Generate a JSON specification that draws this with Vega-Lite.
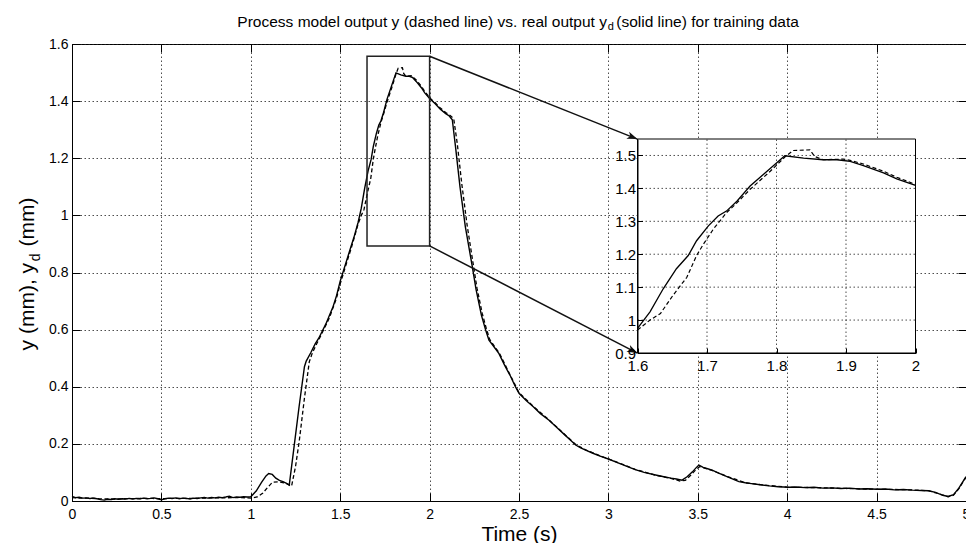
{
  "$schema": "https://vega.github.io/schema/vega-lite/v6.json",
  "width": 894,
  "height": 457,
  "autosize": {"type": "none"},
  "padding": {"left": 72, "top": 44, "right": 0, "bottom": 42},
  "background": "white",
  "config": {
    "view": {"stroke": "black", "strokeWidth": 1},
    "font": "Liberation Sans",
    "axis": {"labelFont": "Liberation Sans", "titleFont": "Liberation Sans", "labelColor": "black", "titleColor": "black", "titleFontWeight": "normal", "domainColor": "black", "tickColor": "black"}
  },
  "datasets": {
    "series": [
      {"t":0.000,"v":0.016,"s":"yd"},{"t":0.020,"v":0.012,"s":"yd"},{"t":0.040,"v":0.013,"s":"yd"},{"t":0.060,"v":0.010,"s":"yd"},{"t":0.080,"v":0.011,"s":"yd"},{"t":0.100,"v":0.009,"s":"yd"},{"t":0.120,"v":0.010,"s":"yd"},{"t":0.140,"v":0.008,"s":"yd"},{"t":0.160,"v":0.005,"s":"yd"},{"t":0.180,"v":0.003,"s":"yd"},{"t":0.200,"v":0.006,"s":"yd"},{"t":0.220,"v":0.005,"s":"yd"},{"t":0.240,"v":0.008,"s":"yd"},{"t":0.260,"v":0.006,"s":"yd"},{"t":0.280,"v":0.008,"s":"yd"},{"t":0.300,"v":0.007,"s":"yd"},{"t":0.320,"v":0.009,"s":"yd"},{"t":0.340,"v":0.007,"s":"yd"},{"t":0.360,"v":0.009,"s":"yd"},{"t":0.380,"v":0.008,"s":"yd"},{"t":0.400,"v":0.010,"s":"yd"},{"t":0.420,"v":0.008,"s":"yd"},{"t":0.440,"v":0.009,"s":"yd"},{"t":0.460,"v":0.011,"s":"yd"},{"t":0.480,"v":0.008,"s":"yd"},{"t":0.500,"v":0.004,"s":"yd"},{"t":0.520,"v":0.008,"s":"yd"},{"t":0.540,"v":0.010,"s":"yd"},{"t":0.560,"v":0.009,"s":"yd"},{"t":0.580,"v":0.011,"s":"yd"},{"t":0.600,"v":0.008,"s":"yd"},{"t":0.620,"v":0.010,"s":"yd"},{"t":0.640,"v":0.009,"s":"yd"},{"t":0.660,"v":0.007,"s":"yd"},{"t":0.680,"v":0.010,"s":"yd"},{"t":0.700,"v":0.009,"s":"yd"},{"t":0.720,"v":0.011,"s":"yd"},{"t":0.740,"v":0.012,"s":"yd"},{"t":0.760,"v":0.010,"s":"yd"},{"t":0.780,"v":0.012,"s":"yd"},{"t":0.800,"v":0.011,"s":"yd"},{"t":0.820,"v":0.013,"s":"yd"},{"t":0.840,"v":0.012,"s":"yd"},{"t":0.860,"v":0.014,"s":"yd"},{"t":0.880,"v":0.017,"s":"yd"},{"t":0.900,"v":0.012,"s":"yd"},{"t":0.920,"v":0.014,"s":"yd"},{"t":0.940,"v":0.013,"s":"yd"},{"t":0.960,"v":0.015,"s":"yd"},{"t":0.980,"v":0.014,"s":"yd"},{"t":1.000,"v":0.015,"s":"yd"},{"t":1.030,"v":0.035,"s":"yd"},{"t":1.060,"v":0.065,"s":"yd"},{"t":1.085,"v":0.088,"s":"yd"},{"t":1.100,"v":0.096,"s":"yd"},{"t":1.120,"v":0.093,"s":"yd"},{"t":1.140,"v":0.080,"s":"yd"},{"t":1.160,"v":0.072,"s":"yd"},{"t":1.180,"v":0.068,"s":"yd"},{"t":1.200,"v":0.062,"s":"yd"},{"t":1.215,"v":0.056,"s":"yd"},{"t":1.240,"v":0.180,"s":"yd"},{"t":1.270,"v":0.330,"s":"yd"},{"t":1.300,"v":0.470,"s":"yd"},{"t":1.310,"v":0.490,"s":"yd"},{"t":1.336,"v":0.520,"s":"yd"},{"t":1.360,"v":0.550,"s":"yd"},{"t":1.380,"v":0.570,"s":"yd"},{"t":1.400,"v":0.595,"s":"yd"},{"t":1.420,"v":0.620,"s":"yd"},{"t":1.440,"v":0.650,"s":"yd"},{"t":1.460,"v":0.680,"s":"yd"},{"t":1.480,"v":0.720,"s":"yd"},{"t":1.500,"v":0.770,"s":"yd"},{"t":1.530,"v":0.830,"s":"yd"},{"t":1.560,"v":0.890,"s":"yd"},{"t":1.580,"v":0.930,"s":"yd"},{"t":1.600,"v":0.975,"s":"yd"},{"t":1.618,"v":1.025,"s":"yd"},{"t":1.637,"v":1.095,"s":"yd"},{"t":1.656,"v":1.156,"s":"yd"},{"t":1.673,"v":1.196,"s":"yd"},{"t":1.685,"v":1.241,"s":"yd"},{"t":1.702,"v":1.286,"s":"yd"},{"t":1.716,"v":1.316,"s":"yd"},{"t":1.728,"v":1.331,"s":"yd"},{"t":1.743,"v":1.361,"s":"yd"},{"t":1.762,"v":1.407,"s":"yd"},{"t":1.781,"v":1.442,"s":"yd"},{"t":1.800,"v":1.477,"s":"yd"},{"t":1.812,"v":1.499,"s":"yd"},{"t":1.839,"v":1.492,"s":"yd"},{"t":1.867,"v":1.487,"s":"yd"},{"t":1.887,"v":1.487,"s":"yd"},{"t":1.906,"v":1.482,"s":"yd"},{"t":1.925,"v":1.469,"s":"yd"},{"t":1.954,"v":1.447,"s":"yd"},{"t":1.973,"v":1.429,"s":"yd"},{"t":2.000,"v":1.409,"s":"yd"},{"t":2.030,"v":1.392,"s":"yd"},{"t":2.060,"v":1.372,"s":"yd"},{"t":2.090,"v":1.356,"s":"yd"},{"t":2.110,"v":1.348,"s":"yd"},{"t":2.127,"v":1.335,"s":"yd"},{"t":2.145,"v":1.240,"s":"yd"},{"t":2.170,"v":1.100,"s":"yd"},{"t":2.200,"v":0.960,"s":"yd"},{"t":2.239,"v":0.820,"s":"yd"},{"t":2.260,"v":0.740,"s":"yd"},{"t":2.290,"v":0.650,"s":"yd"},{"t":2.314,"v":0.598,"s":"yd"},{"t":2.332,"v":0.563,"s":"yd"},{"t":2.360,"v":0.540,"s":"yd"},{"t":2.388,"v":0.516,"s":"yd"},{"t":2.420,"v":0.475,"s":"yd"},{"t":2.450,"v":0.440,"s":"yd"},{"t":2.480,"v":0.400,"s":"yd"},{"t":2.500,"v":0.377,"s":"yd"},{"t":2.540,"v":0.352,"s":"yd"},{"t":2.580,"v":0.330,"s":"yd"},{"t":2.620,"v":0.306,"s":"yd"},{"t":2.668,"v":0.283,"s":"yd"},{"t":2.710,"v":0.258,"s":"yd"},{"t":2.750,"v":0.235,"s":"yd"},{"t":2.790,"v":0.212,"s":"yd"},{"t":2.817,"v":0.196,"s":"yd"},{"t":2.845,"v":0.186,"s":"yd"},{"t":2.873,"v":0.178,"s":"yd"},{"t":2.910,"v":0.168,"s":"yd"},{"t":2.950,"v":0.158,"s":"yd"},{"t":3.000,"v":0.147,"s":"yd"},{"t":3.040,"v":0.137,"s":"yd"},{"t":3.100,"v":0.122,"s":"yd"},{"t":3.150,"v":0.110,"s":"yd"},{"t":3.200,"v":0.100,"s":"yd"},{"t":3.264,"v":0.091,"s":"yd"},{"t":3.310,"v":0.085,"s":"yd"},{"t":3.350,"v":0.080,"s":"yd"},{"t":3.380,"v":0.077,"s":"yd"},{"t":3.412,"v":0.073,"s":"yd"},{"t":3.440,"v":0.085,"s":"yd"},{"t":3.470,"v":0.102,"s":"yd"},{"t":3.490,"v":0.116,"s":"yd"},{"t":3.506,"v":0.126,"s":"yd"},{"t":3.530,"v":0.118,"s":"yd"},{"t":3.555,"v":0.113,"s":"yd"},{"t":3.580,"v":0.108,"s":"yd"},{"t":3.620,"v":0.097,"s":"yd"},{"t":3.660,"v":0.086,"s":"yd"},{"t":3.700,"v":0.076,"s":"yd"},{"t":3.730,"v":0.068,"s":"yd"},{"t":3.766,"v":0.064,"s":"yd"},{"t":3.800,"v":0.061,"s":"yd"},{"t":3.850,"v":0.057,"s":"yd"},{"t":3.900,"v":0.053,"s":"yd"},{"t":3.950,"v":0.050,"s":"yd"},{"t":4.008,"v":0.048,"s":"yd"},{"t":4.050,"v":0.049,"s":"yd"},{"t":4.100,"v":0.047,"s":"yd"},{"t":4.150,"v":0.048,"s":"yd"},{"t":4.200,"v":0.045,"s":"yd"},{"t":4.250,"v":0.046,"s":"yd"},{"t":4.300,"v":0.044,"s":"yd"},{"t":4.350,"v":0.045,"s":"yd"},{"t":4.400,"v":0.042,"s":"yd"},{"t":4.450,"v":0.043,"s":"yd"},{"t":4.500,"v":0.041,"s":"yd"},{"t":4.550,"v":0.042,"s":"yd"},{"t":4.600,"v":0.039,"s":"yd"},{"t":4.650,"v":0.040,"s":"yd"},{"t":4.700,"v":0.038,"s":"yd"},{"t":4.750,"v":0.037,"s":"yd"},{"t":4.790,"v":0.036,"s":"yd"},{"t":4.830,"v":0.030,"s":"yd"},{"t":4.870,"v":0.020,"s":"yd"},{"t":4.900,"v":0.016,"s":"yd"},{"t":4.930,"v":0.022,"s":"yd"},{"t":4.960,"v":0.045,"s":"yd"},{"t":4.980,"v":0.065,"s":"yd"},{"t":5.000,"v":0.085,"s":"yd"},
      {"t":0.00,"v":0.012,"s":"y"},{"t":0.05,"v":0.010,"s":"y"},{"t":0.10,"v":0.010,"s":"y"},{"t":0.15,"v":0.008,"s":"y"},{"t":0.20,"v":0.007,"s":"y"},{"t":0.25,"v":0.007,"s":"y"},{"t":0.30,"v":0.008,"s":"y"},{"t":0.35,"v":0.008,"s":"y"},{"t":0.40,"v":0.009,"s":"y"},{"t":0.45,"v":0.009,"s":"y"},{"t":0.50,"v":0.008,"s":"y"},{"t":0.55,"v":0.009,"s":"y"},{"t":0.60,"v":0.009,"s":"y"},{"t":0.65,"v":0.009,"s":"y"},{"t":0.70,"v":0.010,"s":"y"},{"t":0.75,"v":0.010,"s":"y"},{"t":0.80,"v":0.011,"s":"y"},{"t":0.85,"v":0.011,"s":"y"},{"t":0.90,"v":0.012,"s":"y"},{"t":0.95,"v":0.012,"s":"y"},{"t":1.00,"v":0.010,"s":"y"},{"t":1.035,"v":0.014,"s":"y"},{"t":1.066,"v":0.027,"s":"y"},{"t":1.095,"v":0.048,"s":"y"},{"t":1.122,"v":0.066,"s":"y"},{"t":1.160,"v":0.067,"s":"y"},{"t":1.200,"v":0.061,"s":"y"},{"t":1.228,"v":0.052,"s":"y"},{"t":1.250,"v":0.120,"s":"y"},{"t":1.271,"v":0.210,"s":"y"},{"t":1.300,"v":0.360,"s":"y"},{"t":1.327,"v":0.487,"s":"y"},{"t":1.345,"v":0.520,"s":"y"},{"t":1.370,"v":0.552,"s":"y"},{"t":1.400,"v":0.590,"s":"y"},{"t":1.440,"v":0.642,"s":"y"},{"t":1.480,"v":0.712,"s":"y"},{"t":1.500,"v":0.760,"s":"y"},{"t":1.530,"v":0.822,"s":"y"},{"t":1.560,"v":0.882,"s":"y"},{"t":1.580,"v":0.925,"s":"y"},{"t":1.600,"v":0.970,"s":"y"},{"t":1.618,"v":1.000,"s":"y"},{"t":1.633,"v":1.020,"s":"y"},{"t":1.651,"v":1.075,"s":"y"},{"t":1.671,"v":1.130,"s":"y"},{"t":1.685,"v":1.196,"s":"y"},{"t":1.695,"v":1.231,"s":"y"},{"t":1.709,"v":1.276,"s":"y"},{"t":1.728,"v":1.326,"s":"y"},{"t":1.743,"v":1.356,"s":"y"},{"t":1.762,"v":1.397,"s":"y"},{"t":1.791,"v":1.452,"s":"y"},{"t":1.812,"v":1.495,"s":"y"},{"t":1.824,"v":1.515,"s":"y"},{"t":1.848,"v":1.517,"s":"y"},{"t":1.855,"v":1.497,"s":"y"},{"t":1.867,"v":1.487,"s":"y"},{"t":1.896,"v":1.489,"s":"y"},{"t":1.906,"v":1.485,"s":"y"},{"t":1.925,"v":1.474,"s":"y"},{"t":1.954,"v":1.452,"s":"y"},{"t":1.973,"v":1.434,"s":"y"},{"t":2.000,"v":1.412,"s":"y"},{"t":2.030,"v":1.395,"s":"y"},{"t":2.060,"v":1.376,"s":"y"},{"t":2.090,"v":1.360,"s":"y"},{"t":2.115,"v":1.350,"s":"y"},{"t":2.135,"v":1.338,"s":"y"},{"t":2.155,"v":1.250,"s":"y"},{"t":2.180,"v":1.110,"s":"y"},{"t":2.210,"v":0.965,"s":"y"},{"t":2.245,"v":0.825,"s":"y"},{"t":2.265,"v":0.745,"s":"y"},{"t":2.295,"v":0.655,"s":"y"},{"t":2.318,"v":0.602,"s":"y"},{"t":2.336,"v":0.566,"s":"y"},{"t":2.362,"v":0.542,"s":"y"},{"t":2.390,"v":0.518,"s":"y"},{"t":2.45,"v":0.442,"s":"y"},{"t":2.50,"v":0.379,"s":"y"},{"t":2.58,"v":0.331,"s":"y"},{"t":2.668,"v":0.284,"s":"y"},{"t":2.75,"v":0.236,"s":"y"},{"t":2.817,"v":0.198,"s":"y"},{"t":2.873,"v":0.179,"s":"y"},{"t":2.95,"v":0.159,"s":"y"},{"t":3.04,"v":0.138,"s":"y"},{"t":3.15,"v":0.111,"s":"y"},{"t":3.264,"v":0.090,"s":"y"},{"t":3.35,"v":0.079,"s":"y"},{"t":3.40,"v":0.070,"s":"y"},{"t":3.43,"v":0.072,"s":"y"},{"t":3.46,"v":0.090,"s":"y"},{"t":3.49,"v":0.110,"s":"y"},{"t":3.51,"v":0.120,"s":"y"},{"t":3.53,"v":0.117,"s":"y"},{"t":3.58,"v":0.107,"s":"y"},{"t":3.66,"v":0.087,"s":"y"},{"t":3.766,"v":0.064,"s":"y"},{"t":3.85,"v":0.057,"s":"y"},{"t":4.008,"v":0.048,"s":"y"},{"t":4.15,"v":0.047,"s":"y"},{"t":4.325,"v":0.044,"s":"y"},{"t":4.511,"v":0.041,"s":"y"},{"t":4.65,"v":0.040,"s":"y"},{"t":4.79,"v":0.036,"s":"y"},{"t":4.87,"v":0.021,"s":"y"},{"t":4.90,"v":0.015,"s":"y"},{"t":4.93,"v":0.020,"s":"y"},{"t":4.96,"v":0.043,"s":"y"},{"t":5.00,"v":0.083,"s":"y"}
    ],
    "zoombox": [{"xa": 1.65, "xb": 2.0, "ya": 0.893, "yb": 1.557}],
    "arrows": [
      {"id": 1, "xa": 2.0, "ya": 1.557, "xb": 3.162, "yb": 1.267},
      {"id": 2, "xa": 2.0, "ya": 0.893, "xb": 3.162, "yb": 0.518}
    ],
    "titles": [
      {"id": "main1", "label": "Process model output y (dashed line) vs. real output y", "x": 2.992, "y": 1.661},
      {"id": "main2", "label": "d", "x": 2.997, "y": 1.649},
      {"id": "main3", "label": "(solid line) for training data", "x": 3.044, "y": 1.661},
      {"id": "ysub", "label": "d", "x": -0.18, "y": 0.853}
    ],
    "inset": [{"xa": 1.6, "xb": 2.0, "ya": 0.9, "yb": 1.55}],
    "insetgx": [{"g": 1.7}, {"g": 1.8}, {"g": 1.9}],
    "insetgy": [{"g": 1.0}, {"g": 1.1}, {"g": 1.2}, {"g": 1.3}, {"g": 1.4}, {"g": 1.5}]
  },
  "layer": [
    {
      "layer": [
        {
          "data": {"name": "series"},
          "transform": [{"filter": "datum.s === 'yd'"}],
          "mark": {"type": "line", "color": "black", "strokeWidth": 1.4},
          "encoding": {
            "x": {
              "field": "t", "type": "quantitative",
              "scale": {"domain": [0, 5], "nice": false, "zero": false},
              "axis": {
                "values": [0, 0.5, 1, 1.5, 2, 2.5, 3, 3.5, 4, 4.5, 5],
                "format": "~g",
                "title": "Time (s)",
                "titleFontSize": 21,
                "titleBaseline": "alphabetic",
                "titleX": 447,
                "titleY": 39,
                "labelFontSize": 14,
                "labelPadding": 14,
                "labelFlush": false,
                "labelOverlap": false,
                "tickSize": -8,
                "grid": true,
                "gridColor": "#222",
                "gridDash": [1.5, 2.5],
                "gridOpacity": 0.8
              }
            },
            "y": {
              "field": "v", "type": "quantitative",
              "scale": {"domain": [0, 1.6], "nice": false, "zero": false},
              "axis": {
                "values": [0, 0.2, 0.4, 0.6, 0.8, 1, 1.2, 1.4, 1.6],
                "format": "~g",
                "title": "y (mm), y\u2002 (mm)",
                "titleFontSize": 21,
                "titleAngle": 270,
                "titleBaseline": "alphabetic",
                "titleAlign": "center",
                "titleX": -39,
                "titleY": 229.5,
                "labelFontSize": 14,
                "labelPadding": 12,
                "labelFlush": false,
                "labelOverlap": false,
                "tickSize": -8,
                "grid": true,
                "gridColor": "#222",
                "gridDash": [1.5, 2.5],
                "gridOpacity": 0.8
              }
            }
          }
        },
        {
          "data": {"name": "series"},
          "transform": [{"filter": "datum.s === 'y'"}],
          "mark": {"type": "line", "color": "black", "strokeWidth": 1.3, "strokeDash": [4, 2.5]},
          "encoding": {
            "x": {"field": "t", "type": "quantitative"},
            "y": {"field": "v", "type": "quantitative"}
          }
        },
        {
          "data": {"name": "zoombox"},
          "mark": {"type": "rect", "fill": "transparent", "stroke": "#222", "strokeWidth": 1.5},
          "encoding": {
            "x": {"field": "xa", "type": "quantitative"},
            "x2": {"field": "xb"},
            "y": {"field": "ya", "type": "quantitative"},
            "y2": {"field": "yb"}
          }
        },
        {
          "data": {"name": "arrows"},
          "mark": {"type": "rule", "color": "#111", "strokeWidth": 1.5},
          "encoding": {
            "x": {"field": "xa", "type": "quantitative"},
            "x2": {"field": "xb"},
            "y": {"field": "ya", "type": "quantitative"},
            "y2": {"field": "yb"}
          }
        },
        {
          "data": {"name": "arrows"},
          "transform": [{"filter": "datum.id === 1"}],
          "mark": {"type": "point", "shape": "M0,0L-2.6,-0.95L-1.9,0L-2.6,0.95Z", "filled": true, "color": "#111", "opacity": 1, "size": 64, "angle": 21.7},
          "encoding": {
            "x": {"field": "xb", "type": "quantitative"},
            "y": {"field": "yb", "type": "quantitative"}
          }
        },
        {
          "data": {"name": "arrows"},
          "transform": [{"filter": "datum.id === 2"}],
          "mark": {"type": "point", "shape": "M0,0L-2.6,-0.95L-1.9,0L-2.6,0.95Z", "filled": true, "color": "#111", "opacity": 1, "size": 64, "angle": 27.25},
          "encoding": {
            "x": {"field": "xb", "type": "quantitative"},
            "y": {"field": "yb", "type": "quantitative"}
          }
        },
        {
          "data": {"name": "titles"},
          "transform": [{"filter": "datum.id === 'main1'"}],
          "mark": {"type": "text", "font": "Liberation Sans", "fontSize": 15.5, "color": "black", "align": "right", "baseline": "alphabetic"},
          "encoding": {
            "x": {"field": "x", "type": "quantitative"},
            "y": {"field": "y", "type": "quantitative"},
            "text": {"field": "label"}
          }
        },
        {
          "data": {"name": "titles"},
          "transform": [{"filter": "datum.id === 'main2'"}],
          "mark": {"type": "text", "font": "Liberation Sans", "fontSize": 11, "color": "black", "align": "left", "baseline": "alphabetic"},
          "encoding": {
            "x": {"field": "x", "type": "quantitative"},
            "y": {"field": "y", "type": "quantitative"},
            "text": {"field": "label"}
          }
        },
        {
          "data": {"name": "titles"},
          "transform": [{"filter": "datum.id === 'main3'"}],
          "mark": {"type": "text", "font": "Liberation Sans", "fontSize": 15.5, "color": "black", "align": "left", "baseline": "alphabetic"},
          "encoding": {
            "x": {"field": "x", "type": "quantitative"},
            "y": {"field": "y", "type": "quantitative"},
            "text": {"field": "label"}
          }
        },
        {
          "data": {"name": "titles"},
          "transform": [{"filter": "datum.id === 'ysub'"}],
          "mark": {"type": "text", "font": "Liberation Sans", "fontSize": 14, "color": "black", "align": "center", "baseline": "alphabetic", "angle": 270},
          "encoding": {
            "x": {"field": "x", "type": "quantitative"},
            "y": {"field": "y", "type": "quantitative"},
            "text": {"field": "label"}
          }
        }
      ]
    },
    {
      "layer": [
        {
          "data": {"name": "inset"},
          "mark": {"type": "rect", "fill": "white", "stroke": "black", "strokeWidth": 1},
          "encoding": {
            "x": {"field": "xa", "type": "quantitative", "scale": {"domain": [1.6, 2], "range": [565.5, 843.5], "nice": false, "zero": false},
              "axis": {
                "orient": "bottom", "offset": -148, "zindex": 1,
                "values": [1.6, 1.7, 1.8, 1.9, 2], "format": "~g", "title": null,
                "labelFontSize": 15, "labelPadding": 10, "labelFlush": false, "labelOverlap": false,
                "tickSize": -5, "grid": false
              }},
            "x2": {"field": "xb"},
            "y": {"field": "ya", "type": "quantitative", "scale": {"domain": [0.9, 1.55], "range": [309, 95], "nice": false, "zero": false},
              "axis": {
                "orient": "left", "offset": -565.5, "zindex": 1,
                "values": [0.9, 1, 1.1, 1.2, 1.3, 1.4, 1.5], "format": "~g", "title": null,
                "labelFontSize": 15, "labelPadding": 7, "labelFlush": false, "labelOverlap": false,
                "tickSize": -5, "grid": false
              }},
            "y2": {"field": "yb"}
          }
        },
        {
          "data": {"name": "insetgx"},
          "mark": {"type": "rule", "color": "#222", "strokeWidth": 1, "strokeDash": [1.5, 2.5], "opacity": 0.8},
          "encoding": {
            "x": {"field": "g", "type": "quantitative"},
            "y": {"datum": 0.9, "type": "quantitative"},
            "y2": {"datum": 1.55}
          }
        },
        {
          "data": {"name": "insetgy"},
          "mark": {"type": "rule", "color": "#222", "strokeWidth": 1, "strokeDash": [1.5, 2.5], "opacity": 0.8},
          "encoding": {
            "y": {"field": "g", "type": "quantitative"},
            "x": {"datum": 1.6, "type": "quantitative"},
            "x2": {"datum": 2.0}
          }
        },
        {
          "data": {"name": "series"},
          "transform": [{"filter": "datum.s === 'yd' && datum.t >= 1.6 && datum.t <= 2.0"}],
          "mark": {"type": "line", "color": "black", "strokeWidth": 1.3},
          "encoding": {
            "x": {"field": "t", "type": "quantitative"},
            "y": {"field": "v", "type": "quantitative"}
          }
        },
        {
          "data": {"name": "series"},
          "transform": [{"filter": "datum.s === 'y' && datum.t >= 1.6 && datum.t <= 2.0"}],
          "mark": {"type": "line", "color": "black", "strokeWidth": 1.2, "strokeDash": [4, 2.5]},
          "encoding": {
            "x": {"field": "t", "type": "quantitative"},
            "y": {"field": "v", "type": "quantitative"}
          }
        }
      ]
    },
    {
      "data": {"name": "zoombox"},
      "mark": {"type": "point", "opacity": 0},
      "encoding": {
        "x": {"field": "xa", "type": "quantitative", "scale": {"domain": [0, 5], "nice": false, "zero": false},
          "axis": {"orient": "top", "values": [0, 0.5, 1, 1.5, 2, 2.5, 3, 3.5, 4, 4.5, 5], "labels": false, "title": null, "grid": false, "domain": false, "tickSize": -8}},
        "y": {"field": "ya", "type": "quantitative", "scale": {"domain": [0, 1.6], "nice": false, "zero": false},
          "axis": {"orient": "right", "values": [0, 0.2, 0.4, 0.6, 0.8, 1, 1.2, 1.4, 1.6], "labels": false, "title": null, "grid": false, "domain": false, "tickSize": -8}}
      }
    }
  ],
  "resolve": {"scale": {"x": "independent", "y": "independent"}}
}
